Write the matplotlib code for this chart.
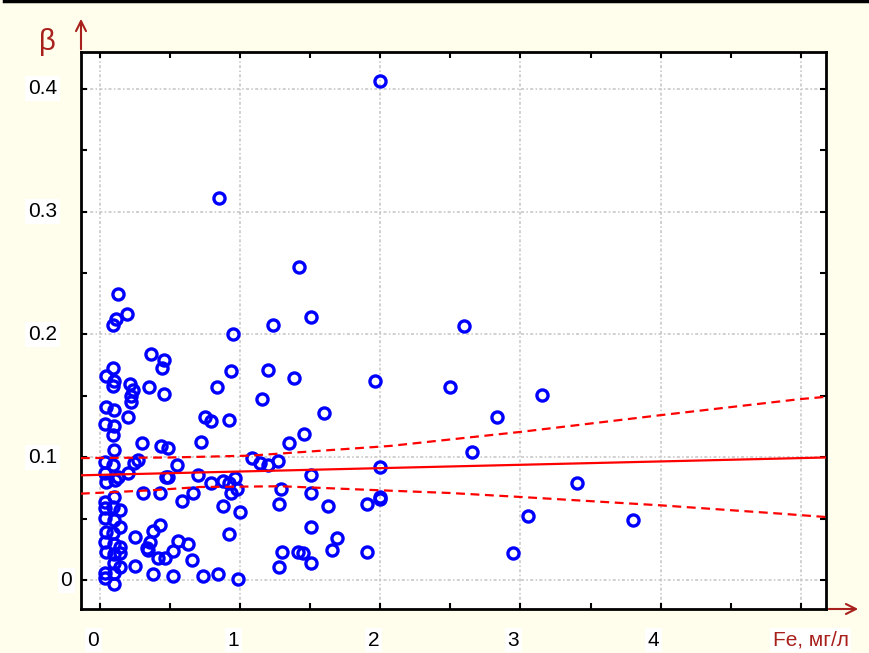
import matplotlib
matplotlib.use("Agg")
import matplotlib.pyplot as plt
from matplotlib import transforms
from matplotlib.lines import Line2D
from matplotlib.ticker import MultipleLocator

plt.rcParams['font.family'] = ['Liberation Sans', 'DejaVu Sans']

# точки: Fe (мг/л) и beta
fe = [1.996, 0.846, 1.416, 0.125, 0.19, 0.089, 0.113, 0.363, 0.454, 0.439,
      0.089, 0.041, 0.096, 0.089, 0.208, 0.232, 0.216, 0.216, 0.344, 0.454,
      0.041, 0.096, 0.196, 0.034, 0.096, 0.089, 0.296, 0.43, 0.096, 0.034,
      0.089, 0.268, 0.239, 0.034, 0.125, 0.196, 0.041, 0.101, 0.304, 0.423,
      0.096, 0.034, 0.034, 0.089, 0.137, 0.034, 0.096, 0.137, 0.041, 0.089,
      0.034, 0.096, 0.137, 0.041, 0.096, 0.137, 0.096, 0.034, 0.096, 0.034,
      0.096, 0.137, 0.244, 0.351, 0.375, 0.423, 0.339, 0.41, 0.463, 0.244,
      0.375, 0.468, 0.949, 0.93, 1.199, 1.382, 0.834, 1.151, 0.746, 0.789,
      0.916, 0.716, 0.484, 1.349, 0.549, 1.08, 1.139, 1.199, 1.27, 0.484,
      0.694, 0.789, 0.873, 0.92, 0.961, 0.977, 0.932, 0.663, 0.58, 1.289,
      1.277, 0.873, 0.996, 0.556, 0.627, 0.916, 0.516, 0.651, 0.52, 0.734,
      0.841, 0.984, 1.294, 1.277, 1.413, 1.501, 1.961, 1.596, 1.454, 1.996,
      1.501, 1.501, 1.627, 1.906, 1.996, 1.996, 1.501, 1.687, 1.444, 1.651,
      1.906, 1.501, 1.234, 2.599, 2.496, 3.154, 2.834, 2.656, 3.056, 2.949,
      3.406, 3.806, 0.33]
beta = [0.406, 0.311, 0.255, 0.233, 0.217, 0.208, 0.213, 0.184, 0.179, 0.173,
        0.173, 0.1665, 0.162, 0.158, 0.160, 0.155, 0.150, 0.145, 0.157, 0.152,
        0.141, 0.1386, 0.133, 0.127, 0.126, 0.118, 0.1115, 0.1096, 0.106, 0.0966,
        0.094, 0.098, 0.0953, 0.087, 0.0844, 0.0877, 0.080, 0.0817, 0.0709, 0.0709,
        0.068, 0.064, 0.0587, 0.060, 0.0573, 0.0506, 0.0492, 0.0437, 0.0397, 0.0384,
        0.0315, 0.030, 0.0275, 0.0234, 0.0215, 0.022, 0.014, 0.0063, 0.0059, 0.0018,
        -0.003, 0.0112, 0.0356, 0.0315, 0.0405, 0.0451, 0.0248, 0.018, 0.018, 0.0118,
        0.0053, 0.0844, 0.2004, 0.170, 0.171, 0.165, 0.157, 0.1476, 0.1327, 0.130,
        0.1305, 0.1128, 0.108, 0.112, 0.0939, 0.0993, 0.0953, 0.0939, 0.0974, 0.0844,
        0.0858, 0.079, 0.0811, 0.079, 0.083, 0.0741, 0.0709, 0.0714, 0.0649, 0.0744,
        0.0622, 0.0606, 0.0559, 0.0324, 0.0297, 0.0378, 0.0242, 0.0167, 0.0037, 0.0037,
        0.0053, 0.001, 0.0234, 0.0112, 0.0234, 0.2145, 0.1622, 0.1364, 0.1191, 0.0925,
        0.086, 0.0709, 0.0606, 0.0622, 0.0681, 0.0663, 0.0432, 0.0343, 0.0226, 0.0248,
        0.0234, 0.0145, 0.2077, 0.207, 0.157, 0.1508, 0.1327, 0.1047, 0.0524, 0.0226,
        0.0795, 0.0492, 0.026]

# линия регрессии и доверительные границы
fit_x = [-0.14, 5.18]
fit_y = [0.0855, 0.1000]
upper_x = [-0.14, 0.5, 1.07, 2.07, 3.0, 4.0, 5.0, 5.18]
upper_y = [0.0995, 0.1000, 0.1015, 0.1094, 0.1208, 0.1344, 0.1475, 0.1493]
lower_x = [-0.14, 0.36, 0.71, 1.29, 2.0, 2.5, 3.0, 4.0, 4.86, 5.18]
lower_y = [0.0706, 0.0733, 0.0760, 0.0766, 0.0733, 0.0711, 0.0679, 0.0611, 0.0543, 0.0516]

x_ticks = [0, 1, 2, 3, 4]
x_labels = ['0', '1', '2', '3', '4']
y_ticks = [0, 0.1, 0.2, 0.3, 0.4]
y_labels = ['0', '0.1', '0.2', '0.3', '0.4']

fondo = '#FFFDEB'
rojo_osc = '#A8201C'

fig = plt.figure(figsize=(8.7, 6.53), dpi=100, facecolor=fondo)
ax = fig.add_axes([81 / 870, 1 - 609 / 653, 745 / 870, 557 / 653])
ax.set_facecolor('white')
ax.set_xlim(-0.139, 5.182)
ax.set_ylim(-0.0232, 0.4297)

ax.xaxis.set_major_locator(MultipleLocator(1))
ax.xaxis.set_minor_locator(MultipleLocator(0.5))
ax.yaxis.set_major_locator(MultipleLocator(0.1))
ax.yaxis.set_minor_locator(MultipleLocator(0.05))
ax.grid(True, color='#C4C4C4', linestyle=(0, (2, 1.5, 1, 1.5)), lw=1.1)
ax.set_axisbelow(True)
ax.tick_params(which='both', direction='in', top=True, right=True, length=4,
               width=1.5, labelbottom=False, labelleft=False)
for s in ax.spines.values():
    s.set_linewidth(2)

ax.plot(fe, beta, 'o', mfc='none', mec='#0000FF', ms=8, mew=2.4, zorder=3)
ax.plot(fit_x, fit_y, color='red', lw=1.6, zorder=4)
ax.plot(upper_x, upper_y, color='red', lw=1.6, ls=(0, (4, 2.5)), zorder=4)
ax.plot(lower_x, lower_y, color='red', lw=1.6, ls=(0, (4, 2.5)), zorder=4)

caja = dict(facecolor='white', edgecolor='none', pad=2)
for v, lab in zip(y_ticks, y_labels):
    dx = -9 if lab == '0' else -24
    tr = transforms.offset_copy(ax.get_yaxis_transform(), fig=fig, x=dx, y=0, units='dots')
    ax.text(0, v, lab, transform=tr, ha='right', va='center', fontsize=15, bbox=caja)

for v, lab in zip(x_ticks, x_labels):
    tr = transforms.offset_copy(ax.get_xaxis_transform(), fig=fig, x=-7, y=-31, units='dots')
    ax.text(v, 0, lab, transform=tr, ha='center', va='center', fontsize=15, bbox=caja)

tr = transforms.offset_copy(ax.get_xaxis_transform(), fig=fig, x=10, y=-31, units='dots')
ax.text(5, 0, 'Fe, мг/л', transform=tr, ha='center', va='center', fontsize=15,
        color=rojo_osc, bbox=caja)

fig.text(47 / 870, 1 - 42 / 653, 'β', color=rojo_osc, fontsize=21, ha='center', va='center')

# flechas de los ejes
ax.annotate('', xy=(81, 653 - 16), xytext=(81, 653 - 52), xycoords='figure pixels',
            arrowprops=dict(arrowstyle='->', color=rojo_osc, lw=1.5, mutation_scale=18))
ax.annotate('', xy=(861, 653 - 609), xytext=(826, 653 - 609), xycoords='figure pixels',
            arrowprops=dict(arrowstyle='->', color=rojo_osc, lw=1.5, mutation_scale=18))

fig.add_artist(Line2D([0.005, 1], [0.998, 0.998], color='black', lw=2.5,
                      transform=fig.transFigure))

fig.savefig('out.png', dpi=100, facecolor=fondo)
